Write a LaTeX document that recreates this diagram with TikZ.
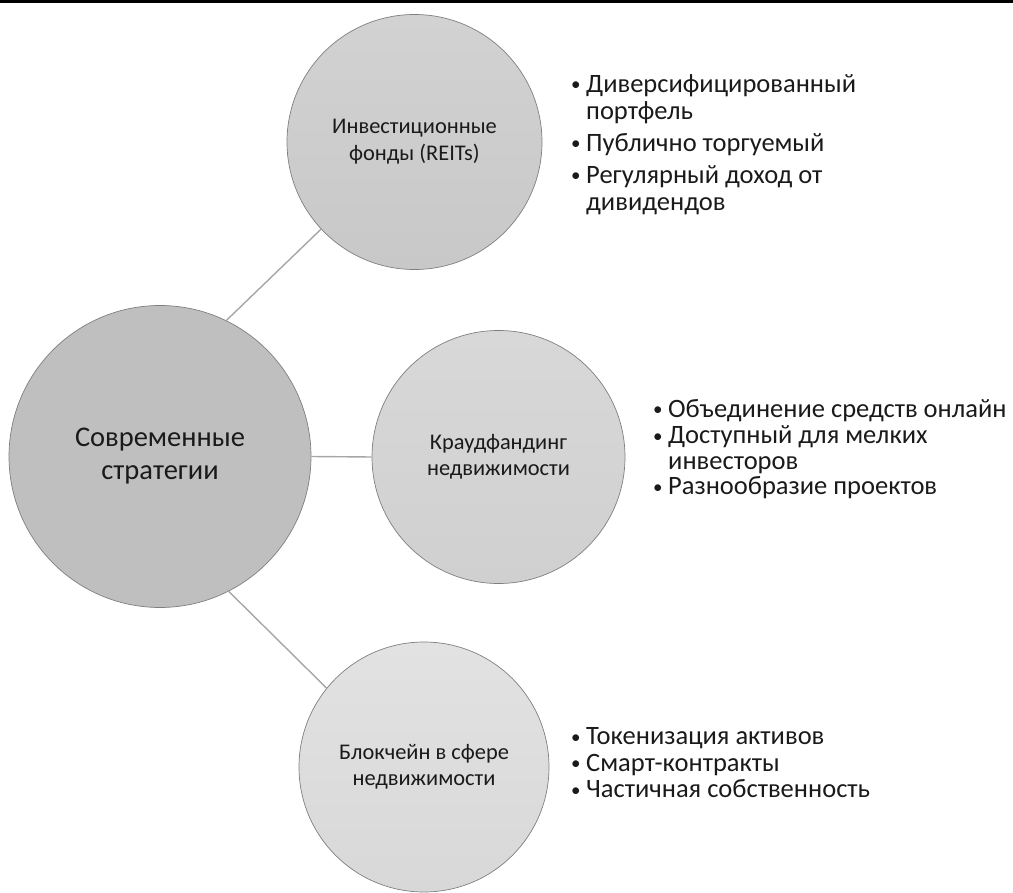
\documentclass[tikz,border=0pt]{standalone}
\usepackage{fontspec}
\setmainfont{Carlito}
\definecolor{circline}{HTML}{7F7F7F}
\definecolor{conn}{HTML}{A6A6A6}
\definecolor{txt}{HTML}{1A1A1A}
\definecolor{mainfill}{HTML}{BFBFBF}
\definecolor{reitstop}{HTML}{D2D2D2}
\definecolor{reitsbot}{HTML}{C8C8C8}
\definecolor{crowdtop}{HTML}{D8D8D8}
\definecolor{crowdbot}{HTML}{D0D0D0}
\definecolor{blocktop}{HTML}{E2E2E2}
\definecolor{blockbot}{HTML}{D8D8D8}
\newcommand{\bul}{\makebox[15pt][l]{\raisebox{1.5pt}{\fontsize{19}{19}\selectfont\textbullet}}}
\newcommand{\ind}{\hspace*{15pt}}
\begin{document}
\begin{tikzpicture}[x=1pt,y=-1pt,
  circ/.style={circle, draw=circline, line width=0.7pt, inner sep=0pt, align=center, text=txt},
  link/.style={draw=conn, line width=1.4pt},
  blist/.style={anchor=north west, align=left, inner sep=0pt, text=txt}]
\useasboundingbox (0,0) rectangle (1013,893);
\fill[black] (0,0) rectangle (1013,3);
\node[circ, minimum size=302pt, fill=mainfill, font=\fontsize{28.5}{33}\selectfont] (main) at (160,456.5) {Современные\\стратегии};
\node[circ, minimum size=255pt, top color=reitstop, bottom color=reitsbot, font=\fontsize{22.4}{27}\selectfont] (reits) at (414.5,142) {Инвестиционные\\фонды (REITs)};
\node[circ, minimum size=253pt, top color=crowdtop, bottom color=crowdbot, font=\fontsize{22.4}{26}\selectfont] (crowd) at (498.5,457) {Краудфандинг\\недвижимости};
\node[circ, minimum size=250pt, top color=blocktop, bottom color=blockbot, font=\fontsize{22.4}{26}\selectfont] (block) at (424,767) {Блокчейн в сфере\\недвижимости};
\draw[link] (main.64) -- (reits.-137);
\draw[link] (main.0) -- (crowd.180);
\draw[link] (main.-63) -- (block.141);
% bullet lists
\node[blist, font=\fontsize{26.5}{27}\selectfont] (l1) at (571,73) {\strut\bul Диверсифицированный\\\ind портфель\\[5pt]\bul Публично торгуемый\\[5pt]\bul Регулярный доход от\\\ind дивидендов};
\node[blist, font=\fontsize{26.5}{25.5}\selectfont] (l2) at (653,399) {\strut\bul Объединение средств онлайн\\\bul Доступный для мелких\\\ind инвесторов\\\bul Разнообразие проектов};
\node[blist, font=\fontsize{26.5}{26.5}\selectfont] (l3) at (571,726) {\strut\bul Токенизация активов\\\bul Смарт-контракты\\\bul Частичная собственность};
\end{tikzpicture}
\end{document}
